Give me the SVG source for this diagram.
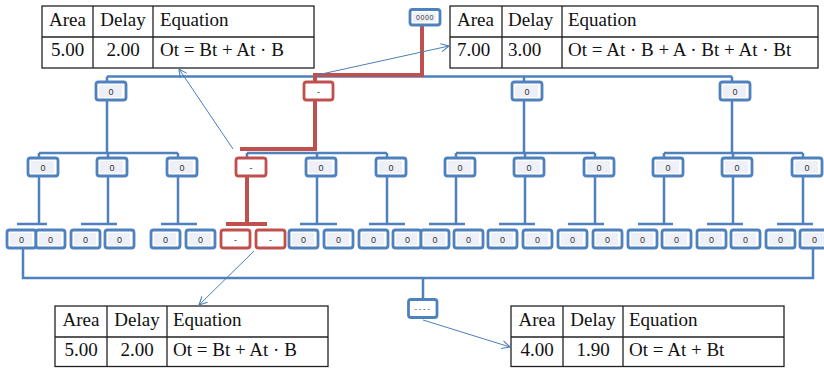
<svg xmlns="http://www.w3.org/2000/svg" width="824" height="368" viewBox="0 0 824 368">
  <style>
    .o { fill: #ffffff; stroke: #4F81BD; stroke-width: 2.8; }
    .i { fill: #EDF1F7; }
    .r .o { stroke: #C0504D; }
    .r .i { fill: #ffffff; }
    .n text { font-family: "Liberation Sans", Arial, sans-serif; font-size: 9px; fill: #333333; text-anchor: middle; }
    .tree { fill: none; stroke: #4F81BD; stroke-width: 2.5; }
    .hot { fill: none; stroke: #C0504D; stroke-width: 4; }
    .ptr { fill: none; stroke: #4A7EBB; stroke-width: 1; }
    .tb { fill: #ffffff; stroke: #222222; stroke-width: 1.3; }
    .tl { stroke: #222222; stroke-width: 1.3; }
    .tt { font-family: "Liberation Serif", "Times New Roman", serif; font-size: 19px; fill: #111111; }
    .c { text-anchor: middle; }
  </style>
  <defs>
    <marker id="open" markerUnits="userSpaceOnUse" markerWidth="12" markerHeight="12" refX="9" refY="5" orient="auto">
      <path d="M1,1 L9,5 L1,9" fill="none" stroke="#4A7EBB" stroke-width="1.1"/>
    </marker>
  </defs>

  <!-- tables -->
  <g id="table-top-left">
    <rect class="tb" x="42" y="6" width="272" height="62"/>
    <line class="tl" x1="42" y1="37" x2="314" y2="37"/>
    <line class="tl" x1="93" y1="6" x2="93" y2="68"/>
    <line class="tl" x1="153" y1="6" x2="153" y2="68"/>
    <text class="tt c" x="67.5" y="26">Area</text>
    <text class="tt c" x="123" y="26">Delay</text>
    <text class="tt" x="160" y="26">Equation</text>
    <text class="tt c" x="67.5" y="56">5.00</text>
    <text class="tt c" x="123" y="56">2.00</text>
    <text class="tt" x="160" y="56">Ot = Bt + At · B</text>
  </g>
  <g id="table-top-right">
    <rect class="tb" x="450" y="6" width="368" height="62"/>
    <line class="tl" x1="450" y1="37" x2="818" y2="37"/>
    <line class="tl" x1="502" y1="6" x2="502" y2="68"/>
    <line class="tl" x1="562" y1="6" x2="562" y2="68"/>
    <text class="tt" x="457" y="26">Area</text>
    <text class="tt" x="508" y="26">Delay</text>
    <text class="tt" x="568" y="26">Equation</text>
    <text class="tt" x="457" y="56">7.00</text>
    <text class="tt" x="508" y="56">3.00</text>
    <text class="tt" x="568" y="56">Ot = At · B + A · Bt + At · Bt</text>
  </g>
  <g id="table-bottom-left">
    <rect class="tb" x="55" y="306" width="273" height="60.5"/>
    <line class="tl" x1="55" y1="337" x2="328" y2="337"/>
    <line class="tl" x1="107" y1="306" x2="107" y2="366.5"/>
    <line class="tl" x1="167" y1="306" x2="167" y2="366.5"/>
    <text class="tt c" x="81" y="326">Area</text>
    <text class="tt c" x="137" y="326">Delay</text>
    <text class="tt" x="173" y="326">Equation</text>
    <text class="tt c" x="81" y="356">5.00</text>
    <text class="tt c" x="137" y="356">2.00</text>
    <text class="tt" x="173" y="356">Ot = Bt + At · B</text>
  </g>
  <g id="table-bottom-right">
    <rect class="tb" x="511" y="306" width="273" height="60.5"/>
    <line class="tl" x1="511" y1="337" x2="784" y2="337"/>
    <line class="tl" x1="563" y1="306" x2="563" y2="366.5"/>
    <line class="tl" x1="623" y1="306" x2="623" y2="366.5"/>
    <text class="tt c" x="537" y="326">Area</text>
    <text class="tt c" x="593" y="326">Delay</text>
    <text class="tt" x="629" y="326">Equation</text>
    <text class="tt c" x="537" y="356">4.00</text>
    <text class="tt c" x="593" y="356">1.90</text>
    <text class="tt" x="629" y="356">Ot = At + Bt</text>
  </g>

  <!-- connectors -->
  <g id="connectors">
    <path class="tree" d="M107,76.5 H732 M107,76.5 V82 M524,76.5 V82 M732,76.5 V82
      M107,100 V153 M524,100 V153 M732,100 V153
      M39,153 H178 M247,153 H387 M456,153 H595 M664,153 H803
      M39,153 V158 M108,153 V158 M178,153 V158 M247,153 V158 M317,153 V158 M387,153 V158
      M456,153 V158 M525,153 V158 M595,153 V158 M664,153 V158 M733,153 V158 M803,153 V158
      M39,176 V224 M108,176 V224 M178,176 V224 M317,176 V224 M387,176 V224
      M456,176 V224 M525,176 V224 M595,176 V224 M664,176 V224 M733,176 V224 M803,176 V224
      M17,224 H47 M81,224 H117 M161,224 H197 M300,224 H337 M369,224 H405
      M429,224 H465 M499,224 H535 M568,224 H604 M638,224 H673 M707,224 H743 M777,224 H813
      M23,248 V278 H813 V248 M423,278 V299"/>
    <path class="hot" d="M422,25 V75 H315 V82 M315,100 V149 H240 M247,176 V224 M226,224 H267"/>
    <path class="ptr" d="M317,75 L449,46" marker-end="url(#open)"/>
    <path class="ptr" d="M233,149 L179,69" marker-end="url(#open)"/>
    <path class="ptr" d="M254,251 L199,305" marker-end="url(#open)"/>
    <path class="ptr" d="M423,320 L510,347" marker-end="url(#open)"/>
  </g>

  <!-- root and summary nodes -->
  <g id="root" class="n"><rect class="o" x="410" y="9.5" width="30" height="15.5" rx="2.5"/><rect class="i" x="413" y="12.5" width="23" height="9.5"/><text x="425" y="20" style="font-size:7px;letter-spacing:0.6px">0000</text></g>
  <g id="sum" class="n"><rect class="o" x="408.5" y="299.5" width="28.5" height="18" rx="2.5"/><rect class="i" x="411.5" y="302.5" width="22" height="12" style="fill:#ffffff"/><text x="423" y="311" style="font-size:8px;letter-spacing:1.6px">----</text></g>

  <!-- level 1 -->
  <g id="l1-0" class="n"><rect class="o" x="96" y="82" width="30" height="18" rx="2.5"/><rect class="i" x="99" y="85" width="23" height="12"/><text x="111" y="94.5">0</text></g>
  <g id="l1-1" class="n r"><rect class="o" x="304" y="82" width="29" height="18" rx="2.5"/><rect class="i" x="307" y="85" width="22" height="12"/><text x="318.5" y="94.5">-</text></g>
  <g id="l1-2" class="n"><rect class="o" x="512" y="82" width="30" height="18" rx="2.5"/><rect class="i" x="515" y="85" width="23" height="12"/><text x="527" y="94.5">0</text></g>
  <g id="l1-3" class="n"><rect class="o" x="720" y="82" width="30" height="18" rx="2.5"/><rect class="i" x="723" y="85" width="23" height="12"/><text x="735" y="94.5">0</text></g>

  <!-- level 2 -->
  <g id="l2-0" class="n"><rect class="o" x="28" y="158" width="30" height="18" rx="2.5"/><rect class="i" x="31" y="161" width="23" height="12"/><text x="43" y="170.5">0</text></g>
  <g id="l2-1" class="n"><rect class="o" x="97" y="158" width="30" height="18" rx="2.5"/><rect class="i" x="100" y="161" width="23" height="12"/><text x="112" y="170.5">0</text></g>
  <g id="l2-2" class="n"><rect class="o" x="167" y="158" width="30" height="18" rx="2.5"/><rect class="i" x="170" y="161" width="23" height="12"/><text x="182" y="170.5">0</text></g>
  <g id="l2-3" class="n r"><rect class="o" x="236" y="158" width="30" height="18" rx="2.5"/><rect class="i" x="239" y="161" width="23" height="12"/><text x="251" y="170.5">-</text></g>
  <g id="l2-4" class="n"><rect class="o" x="306" y="158" width="30" height="18" rx="2.5"/><rect class="i" x="309" y="161" width="23" height="12"/><text x="321" y="170.5">0</text></g>
  <g id="l2-5" class="n"><rect class="o" x="376" y="158" width="30" height="18" rx="2.5"/><rect class="i" x="379" y="161" width="23" height="12"/><text x="391" y="170.5">0</text></g>
  <g id="l2-6" class="n"><rect class="o" x="445" y="158" width="30" height="18" rx="2.5"/><rect class="i" x="448" y="161" width="23" height="12"/><text x="460" y="170.5">0</text></g>
  <g id="l2-7" class="n"><rect class="o" x="514" y="158" width="30" height="18" rx="2.5"/><rect class="i" x="517" y="161" width="23" height="12"/><text x="529" y="170.5">0</text></g>
  <g id="l2-8" class="n"><rect class="o" x="584" y="158" width="30" height="18" rx="2.5"/><rect class="i" x="587" y="161" width="23" height="12"/><text x="599" y="170.5">0</text></g>
  <g id="l2-9" class="n"><rect class="o" x="653" y="158" width="30" height="18" rx="2.5"/><rect class="i" x="656" y="161" width="23" height="12"/><text x="668" y="170.5">0</text></g>
  <g id="l2-10" class="n"><rect class="o" x="722" y="158" width="30" height="18" rx="2.5"/><rect class="i" x="725" y="161" width="23" height="12"/><text x="737" y="170.5">0</text></g>
  <g id="l2-11" class="n"><rect class="o" x="792" y="158" width="30" height="18" rx="2.5"/><rect class="i" x="795" y="161" width="23" height="12"/><text x="807" y="170.5">0</text></g>

  <!-- level 3 -->
  <g id="l3-0" class="n"><rect class="o" x="7" y="230" width="29" height="18" rx="2.5"/><rect class="i" x="10" y="233" width="22" height="12"/><text x="21.5" y="242.5">0</text></g>
  <g id="l3-1" class="n"><rect class="o" x="36" y="230" width="29" height="18" rx="2.5"/><rect class="i" x="39" y="233" width="22" height="12"/><text x="50.5" y="242.5">0</text></g>
  <g id="l3-2" class="n"><rect class="o" x="71" y="230" width="29" height="18" rx="2.5"/><rect class="i" x="74" y="233" width="22" height="12"/><text x="85.5" y="242.5">0</text></g>
  <g id="l3-3" class="n"><rect class="o" x="105" y="230" width="29" height="18" rx="2.5"/><rect class="i" x="108" y="233" width="22" height="12"/><text x="119.5" y="242.5">0</text></g>
  <g id="l3-4" class="n"><rect class="o" x="151" y="230" width="29" height="18" rx="2.5"/><rect class="i" x="154" y="233" width="22" height="12"/><text x="165.5" y="242.5">0</text></g>
  <g id="l3-5" class="n"><rect class="o" x="186" y="230" width="29" height="18" rx="2.5"/><rect class="i" x="189" y="233" width="22" height="12"/><text x="200.5" y="242.5">0</text></g>
  <g id="l3-6" class="n r"><rect class="o" x="221" y="230" width="29" height="18" rx="2.5"/><rect class="i" x="224" y="233" width="22" height="12"/><text x="235.5" y="242.5">-</text></g>
  <g id="l3-7" class="n r"><rect class="o" x="256" y="230" width="29" height="18" rx="2.5"/><rect class="i" x="259" y="233" width="22" height="12"/><text x="270.5" y="242.5">-</text></g>
  <g id="l3-8" class="n"><rect class="o" x="289" y="230" width="29" height="18" rx="2.5"/><rect class="i" x="292" y="233" width="22" height="12"/><text x="303.5" y="242.5">0</text></g>
  <g id="l3-9" class="n"><rect class="o" x="324" y="230" width="29" height="18" rx="2.5"/><rect class="i" x="327" y="233" width="22" height="12"/><text x="338.5" y="242.5">0</text></g>
  <g id="l3-10" class="n"><rect class="o" x="359" y="230" width="29" height="18" rx="2.5"/><rect class="i" x="362" y="233" width="22" height="12"/><text x="373.5" y="242.5">0</text></g>
  <g id="l3-11" class="n"><rect class="o" x="393" y="230" width="28" height="18" rx="2.5"/><rect class="i" x="396" y="233" width="21" height="12"/><text x="407.5" y="242.5">0</text></g>
  <g id="l3-12" class="n"><rect class="o" x="421" y="230" width="28" height="18" rx="2.5"/><rect class="i" x="424" y="233" width="21" height="12"/><text x="435" y="242.5">0</text></g>
  <g id="l3-13" class="n"><rect class="o" x="454" y="230" width="29" height="18" rx="2.5"/><rect class="i" x="457" y="233" width="22" height="12"/><text x="468.5" y="242.5">0</text></g>
  <g id="l3-14" class="n"><rect class="o" x="488" y="230" width="29" height="18" rx="2.5"/><rect class="i" x="491" y="233" width="22" height="12"/><text x="502.5" y="242.5">0</text></g>
  <g id="l3-15" class="n"><rect class="o" x="523" y="230" width="29" height="18" rx="2.5"/><rect class="i" x="526" y="233" width="22" height="12"/><text x="537.5" y="242.5">0</text></g>
  <g id="l3-16" class="n"><rect class="o" x="558" y="230" width="29" height="18" rx="2.5"/><rect class="i" x="561" y="233" width="22" height="12"/><text x="572.5" y="242.5">0</text></g>
  <g id="l3-17" class="n"><rect class="o" x="593" y="230" width="29" height="18" rx="2.5"/><rect class="i" x="596" y="233" width="22" height="12"/><text x="607.5" y="242.5">0</text></g>
  <g id="l3-18" class="n"><rect class="o" x="628" y="230" width="29" height="18" rx="2.5"/><rect class="i" x="631" y="233" width="22" height="12"/><text x="642.5" y="242.5">0</text></g>
  <g id="l3-19" class="n"><rect class="o" x="662" y="230" width="29" height="18" rx="2.5"/><rect class="i" x="665" y="233" width="22" height="12"/><text x="676.5" y="242.5">0</text></g>
  <g id="l3-20" class="n"><rect class="o" x="697" y="230" width="29" height="18" rx="2.5"/><rect class="i" x="700" y="233" width="22" height="12"/><text x="711.5" y="242.5">0</text></g>
  <g id="l3-21" class="n"><rect class="o" x="731" y="230" width="29" height="18" rx="2.5"/><rect class="i" x="734" y="233" width="22" height="12"/><text x="745.5" y="242.5">0</text></g>
  <g id="l3-22" class="n"><rect class="o" x="766" y="230" width="29" height="18" rx="2.5"/><rect class="i" x="769" y="233" width="22" height="12"/><text x="780.5" y="242.5">0</text></g>
  <g id="l3-23" class="n"><rect class="o" x="800" y="230" width="29" height="18" rx="2.5"/><rect class="i" x="803" y="233" width="22" height="12"/><text x="814.5" y="242.5">0</text></g>
</svg>
